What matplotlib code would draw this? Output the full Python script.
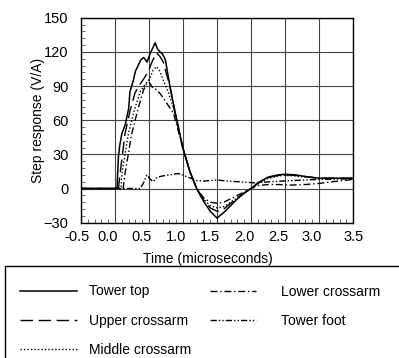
import matplotlib
matplotlib.use("Agg")
import matplotlib.pyplot as plt
from matplotlib.patches import Rectangle
from matplotlib.transforms import ScaledTranslation

plt.rcParams['font.family'] = ['Liberation Sans', 'DejaVu Sans']
plt.rcParams['font.size'] = 10

# data (time in microseconds, response in V/A)
t_top = [-0.5, 0.0, 0.03, 0.05, 0.07, 0.10, 0.15, 0.20, 0.22, 0.27, 0.30, 0.34, 0.38, 0.42, 0.45,
         0.47, 0.52, 0.56, 0.59, 0.62, 0.66, 0.70, 0.74, 0.81, 0.88, 1.0, 1.1, 1.2, 1.3, 1.4,
         1.5, 1.6, 1.7, 1.8, 1.9, 2.0, 2.1, 2.25, 2.4, 2.5, 2.65, 2.8, 3.0, 3.2, 3.5]
v_top = [0, 0, 0.5, 28, 38, 48, 56, 70, 85, 95, 103, 108, 113, 115, 113,
         111, 119, 124, 128, 123, 120, 118, 113, 89, 68, 35, 15, 0, -11, -20,
         -26, -21, -15, -9, -4, 0, 5, 10, 12, 12.5, 12, 10.5, 9, 9, 9]

t_upper = [-0.5, 0.0, 0.05, 0.074, 0.147, 0.22, 0.294, 0.35, 0.42, 0.49, 0.55, 0.61, 0.66, 0.71,
           0.76, 0.81, 0.88, 1.0, 1.1, 1.2, 1.3, 1.4, 1.5, 1.6, 1.7, 1.8, 1.9, 2.0, 2.1, 2.25,
           2.4, 2.5, 2.65, 2.8, 3.0, 3.2, 3.5]
v_upper = [0, 0, 0, 13, 48, 68, 84, 90, 96, 103, 112, 119, 116, 111,
           100, 89, 67, 35, 15, 0, -10, -17, -20, -18, -13, -8, -4, 0, 4.5, 9.5,
           11.5, 12, 11.5, 10.5, 9, 9, 9]

t_middle = [-0.5, 0.0, 0.09, 0.10, 0.196, 0.28, 0.37, 0.45, 0.515, 0.56, 0.61, 0.66, 0.71, 0.78,
            0.88, 1.0, 1.1, 1.2, 1.3, 1.4, 1.5, 1.6, 1.7, 1.8, 1.9, 2.0, 2.1, 2.25, 2.4, 2.5,
            2.65, 2.8, 3.0, 3.2, 3.5]
v_middle = [0, 0, 0, 13, 48, 68, 85, 92, 97, 104, 107, 103, 95, 85,
            67, 35, 15, 0, -9, -15, -17, -16, -12, -8, -4, 0, 4, 9, 11, 11.5,
            11, 10, 9, 9, 9]

t_lower = [-0.5, 0.0, 0.12, 0.147, 0.245, 0.33, 0.416, 0.47, 0.505, 0.56, 0.61, 0.68, 0.76,
           0.86, 1.0, 1.1, 1.2, 1.3, 1.4, 1.5, 1.6, 1.7, 1.8, 1.9, 2.0, 2.1, 2.25, 2.4, 2.6,
           2.8, 3.0, 3.2, 3.5]
v_lower = [0, 0, 0, 13, 48, 68, 86, 93, 93, 88, 87, 82, 75,
           66, 35, 15, 0, -8, -12, -13, -12, -9, -6, -3, 0, 2.5, 3.5, 3.5, 3,
           3.5, 4.5, 6, 8]

t_foot = [-0.5, 0.0, 0.37, 0.42, 0.466, 0.52, 0.56, 0.62, 0.70, 0.80, 0.90, 0.96, 1.05, 1.2,
          1.3, 1.5, 1.65, 1.8, 2.05, 2.3, 2.6, 3.0, 3.5]
v_foot = [0, 0, 0, 5, 12, 8, 6, 10, 11, 12, 13, 13, 10.5, 7,
          6.5, 7.5, 6.5, 6, 5, 6, 7, 8, 8.5]

labels = ["Tower top", "Upper crossarm", "Middle crossarm", "Lower crossarm", "Tower foot"]
xtick_vals = [-0.5, 0.0, 0.5, 1.0, 1.5, 2.0, 2.5, 3.0, 3.5]
xtick_text = ["-0.5", "0.0", "0.5", "1.0", "1.5", "2.0", "2.5", "3.0", "3.5"]
ytick_vals = [-30, 0, 30, 60, 90, 120, 150]

fig = plt.figure(figsize=(3.99, 3.58), dpi=100)
ax = fig.add_axes([0.203, 0.378, 0.682, 0.5726])

h1, = ax.plot(t_top, v_top, color='black', lw=1.1, ls='-')
h2, = ax.plot(t_upper, v_upper, color='black', lw=1.0, ls=(0, (9, 4)))
h3, = ax.plot(t_middle, v_middle, color='black', lw=1.0, ls=(0, (1, 1.5)))
h4, = ax.plot(t_lower, v_lower, color='black', lw=1.0, ls=(0, (5, 2, 1, 2)))
h5, = ax.plot(t_foot, v_foot, color='black', lw=1.0, ls=(0, (4.5, 1.5, 1, 1.5, 1, 1.5)))

ax.set_xlim(-0.5, 3.5)
ax.set_ylim(-30, 150)
ax.set_xticks(xtick_vals)
ax.set_xticklabels(xtick_text)
ax.set_yticks(ytick_vals)
ax.set_xticks([x / 10 for x in range(-5, 36)], minor=True)
ax.set_yticks(list(range(-30, 151, 6)), minor=True)
ax.tick_params(which='major', length=0, labelsize=10.5)
ax.tick_params(axis='y', which='major', pad=9)
ax.tick_params(axis='x', which='major', pad=5)
ax.tick_params(which='minor', direction='in', length=3, width=0.6, color='#555555')
ax.grid(True, which='major', color='#444444', lw=0.8)
for s in ax.spines.values():
    s.set_linewidth(1.0)

# the x tick labels in the original sit a little left of their grid lines
shifts = [-4, -7, -7, -7, -7, -7, -7, -7, 0]
for lab, dx in zip(ax.get_xticklabels(), shifts):
    lab.set_transform(lab.get_transform() + ScaledTranslation(dx / 100, 0, fig.dpi_scale_trans))

ax.set_xlabel("Time (microseconds)", fontsize=10)
ax.set_ylabel("Step response (V/A)", fontsize=10)
ax.xaxis.set_label_coords(0.467, -0.143)
ax.yaxis.set_label_coords(-0.133, 0.5)

# legend box, running off the right and bottom edges
fig.patches.append(Rectangle((5 / 399, -0.2), 1.2, 0.2 + (358 - 266) / 358,
                             transform=fig.transFigure, fill=False,
                             edgecolor='black', lw=1.0))

leg1 = fig.legend([h1, h2, h3], labels[:3], loc='upper left',
                  bbox_to_anchor=(0.02, (358 - 272) / 358), frameon=False,
                  handlelength=4.1, handletextpad=0.8, labelspacing=1.1, fontsize=10)
leg2 = fig.legend([h4, h5], labels[3:], loc='upper left',
                  bbox_to_anchor=(0.495, (358 - 272) / 358), frameon=False,
                  handlelength=3.3, handletextpad=1.8, labelspacing=1.1, fontsize=10)

fig.savefig("out.png", dpi=100)
